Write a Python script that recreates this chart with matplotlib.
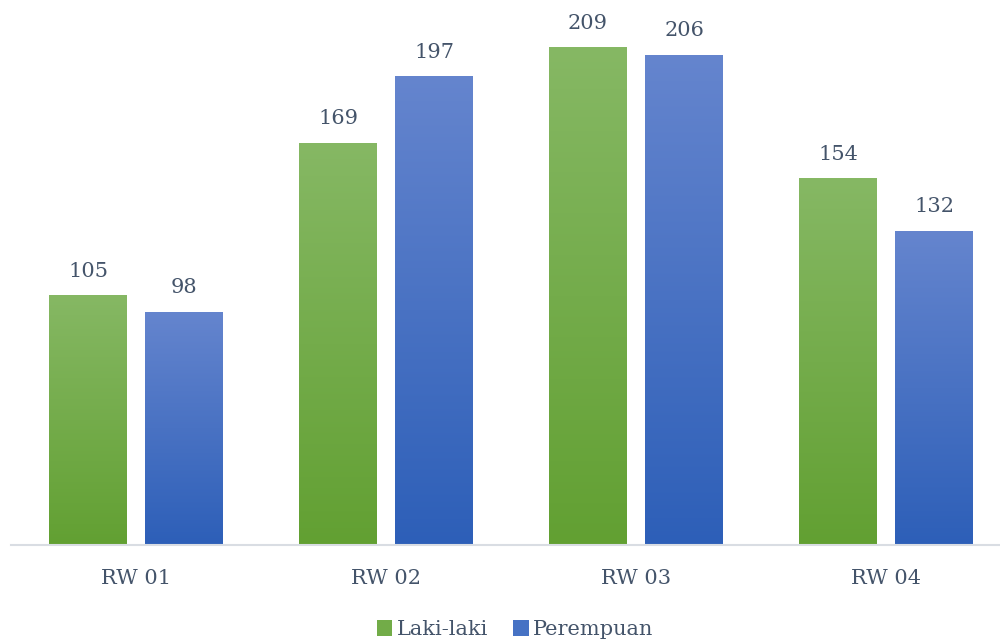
import matplotlib
matplotlib.use("Agg")
import matplotlib.pyplot as plt
import numpy as np
from matplotlib.colors import LinearSegmentedColormap
from matplotlib.patches import Patch

categories = ["RW 01", "RW 02", "RW 03", "RW 04"]
laki = [105, 169, 209, 154]
perempuan = [98, 197, 206, 132]

TEXT = "#44546A"
plt.rcParams["font.family"] = ["DejaVu Serif"]

green_cmap = LinearSegmentedColormap.from_list("g", ["#62A032", "#86B864"])
blue_cmap = LinearSegmentedColormap.from_list("b", ["#2D5FB8", "#6585CE"])

fig = plt.figure(figsize=(10, 6.42), dpi=100)
ax = fig.add_axes([0.011, 0.151, 0.989, 0.849])

x = np.arange(len(categories))
w = 0.312
off = 0.192
grad = np.linspace(0, 1, 256).reshape(-1, 1)


def gradient_bars(xs, vals, cmap):
    bars = ax.bar(xs, vals, width=w, color="none", edgecolor="none")
    for b in bars:
        x0, y0 = b.get_x(), b.get_y()
        im = ax.imshow(grad, cmap=cmap, origin="lower", aspect="auto",
                       extent=[x0, x0 + b.get_width(), y0, y0 + b.get_height()],
                       zorder=2)
        im.set_clip_path(b)
    for xi, v in zip(xs, vals):
        ax.text(xi, v + 6, str(v), ha="center", va="bottom",
                fontsize=15, color=TEXT)
    return bars


gradient_bars(x - off, laki, green_cmap)
gradient_bars(x + off, perempuan, blue_cmap)

ax.set_xlim(-0.5, 3.456)
ax.set_ylim(0, 228.9)
for s in ["top", "right", "left"]:
    ax.spines[s].set_visible(False)
ax.spines["bottom"].set_color("#D9DDE3")
ax.spines["bottom"].set_linewidth(1.5)
ax.set_yticks([])
ax.set_xticks(x)
ax.set_xticklabels(categories, fontsize=15, color=TEXT)
ax.tick_params(axis="x", length=0, pad=17)

handles = [Patch(facecolor="#72AC48", label="Laki-laki"),
           Patch(facecolor="#4672C4", label="Perempuan")]
fig.legend(handles=handles, loc="center", bbox_to_anchor=(0.515, 0.019),
           ncol=2, frameon=False, fontsize=15, handlelength=0.75,
           handleheight=0.75, handletextpad=0.2, columnspacing=1.2,
           labelcolor=TEXT)

fig.savefig("out.png", dpi=100)
